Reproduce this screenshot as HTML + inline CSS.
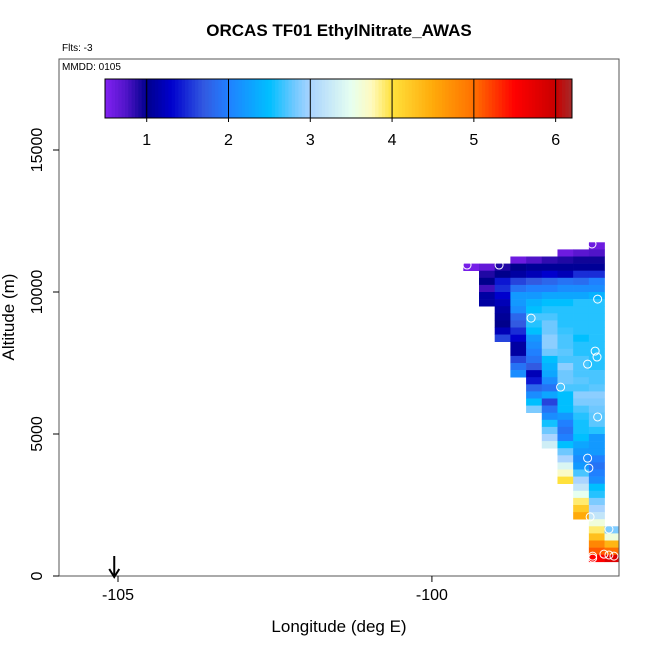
<!DOCTYPE html>
<html><head><meta charset="utf-8"><style>
body{margin:0;background:#fff;}
svg text{font-family:"Liberation Sans",sans-serif;}
</style></head><body>
<svg id="chart" width="650" height="650" xmlns="http://www.w3.org/2000/svg"></svg>
<script>
// grid data: rows from top (altitude top = 11750 - 250*r), starting column index, values
const rowStart = [8,6,3,0,1,1,1,1,1,2,2,2,2,2,3,3,3,3,3,4,4,4,4,4,5,5,5,5,5,6,6,6,6,6,7,7,7,7,7,8,8,8,8,8,8];
const rowVals = [
 [0.6],
 [0.6,0.7,0.75],
 [0.6,0.75,0.85,0.9,0.95,0.95],
 [0.55,0.65,0.9,1.0,1.05,1.05,1.05,1.05,1.05],
 [0.9,1.0,1.1,1.2,1.3,1.2,1.5,1.5],
 [1.0,1.4,1.6,1.7,1.8,1.9,1.85,2.0],
 [0.8,1.5,1.9,2.0,2.0,2.1,2.1,2.1],
 [1.1,1.3,2.2,2.2,2.3,2.3,2.3,2.4],
 [1.1,1.2,2.2,2.4,2.5,2.5,2.6,2.6],
 [1.1,2.1,2.5,2.6,2.6,2.6,2.6],
 [1.05,1.8,2.7,2.7,2.6,2.6,2.6],
 [1.0,1.7,2.6,2.8,2.6,2.6,2.6],
 [1.2,1.5,2.5,2.8,2.65,2.6,2.6],
 [1.6,1.3,2.2,2.9,2.7,2.5,2.6],
 [1.1,2.1,2.9,2.7,2.6,2.6],
 [1.1,2.0,2.8,2.75,2.6,2.6],
 [1.6,1.9,2.5,2.7,2.7,2.6],
 [1.9,1.7,2.4,2.9,2.7,2.6],
 [2.1,1.2,2.3,2.8,2.7,2.7],
 [1.4,2.1,2.8,2.75,2.7],
 [1.8,1.9,2.7,2.7,2.75],
 [2.1,2.3,2.5,2.9,2.9],
 [2.5,1.6,2.5,2.85,2.85],
 [2.85,1.9,2.5,2.7,2.8],
 [2.1,2.2,2.6,2.75],
 [2.55,2.0,2.55,2.75],
 [2.8,1.9,2.55,2.6],
 [3.0,2.0,2.5,2.2],
 [3.3,2.5,2.3,2.2],
 [2.8,2.2,2.2],
 [3.0,2.1,2.0],
 [3.4,2.2,1.9],
 [3.7,2.7,2.0],
 [4.0,3.0,2.1],
 [3.2,2.5],
 [3.5,2.6],
 [3.9,2.85],
 [4.2,3.0],
 [4.5,3.2],
 [3.6],
 [3.9,2.85],
 [4.3,3.6],
 [4.8,4.4],
 [5.1,5.0],
 [5.5,5.8]
];
const sampleLon = [-97.45,-99.44,-98.93,-97.36,-98.42,-97.40,-97.37,-97.52,-97.95,-97.36,-97.52,-97.50,-97.48,-97.18,-97.44,-97.26,-97.18,-97.10,-97.44];
const sampleAlt = [11690,10950,10950,9750,9080,7920,7710,7460,6650,5600,4150,3800,2080,1650,700,770,740,700,630];
const xTicks = [-105,-100];
const yTicks = [0,5000,10000,15000];
const cbTicks = [1,2,3,4,5,6];

const NS="http://www.w3.org/2000/svg";
const svg=document.getElementById('chart');
const L=59,R=619,T=59,B=576;
const xmin=-105.94,xmax=-97.02,ymin=0,ymax=18204;
const sx=v=>L+(v-xmin)/(xmax-xmin)*(R-L);
const sy=v=>B-(v-ymin)/(ymax-ymin)*(B-T);
const stops=[[0.5,[128,32,240]],[0.75,[80,20,200]],[1.0,[0,0,140]],[1.3,[0,0,205]],[1.7,[50,90,225]],[2.0,[32,128,255]],[2.5,[0,191,255]],[2.8,[110,200,255]],[3.0,[170,212,255]],[3.5,[230,255,240]],[3.75,[255,250,190]],[4.0,[255,225,60]],[4.5,[255,170,10]],[5.0,[255,112,0]],[5.5,[255,0,0]],[6.0,[200,0,0]],[6.2,[165,42,42]]];
function col(v){
  if(v<=stops[0][0])return `rgb(${stops[0][1]})`;
  for(let i=1;i<stops.length;i++){if(v<=stops[i][0]){const a=stops[i-1],b=stops[i];const t=(v-a[0])/(b[0]-a[0]);
    return `rgb(${a[1].map((c,k)=>Math.round(c+(b[1][k]-c)*t)).join(',')})`;}}
  return `rgb(${stops[stops.length-1][1]})`;
}
function mk(tag,attrs,parent){const e=document.createElementNS(NS,tag);for(const k in attrs)e.setAttribute(k,attrs[k]);(parent||svg).appendChild(e);return e;}
function txt(s,attrs){const e=mk('text',attrs);e.textContent=s;return e;}

const defs=mk('defs',{});const cp=mk('clipPath',{id:'pc'},defs);mk('rect',{x:L,y:T,width:R-L,height:B-T},cp);
const cells=mk('g',{'clip-path':'url(#pc)'});


rowVals.forEach((vals,r)=>{
  const top=11750-250*r;
  vals.forEach((v,i)=>{
    const c=rowStart[r]+i;const lon=-99.5+0.25*c;
    const x0=sx(lon),x1=sx(lon+0.25);
    const e=mk('rect',{x:x0.toFixed(2),y:sy(top).toFixed(2),width:(x1-x0+0.3).toFixed(2),height:(sy(top-250)-sy(top)+0.3).toFixed(2),fill:col(v)},cells);
    
    
  });
});
sampleLon.forEach((lo,i)=>{
  const e=mk('circle',{cx:sx(lo),cy:sy(sampleAlt[i]),r:4,fill:'none',stroke:'#fff','stroke-width':1},cells);
  
  
});
const fr=mk('rect',{x:L,y:T,width:R-L,height:B-T,fill:'none',stroke:'#555','stroke-width':1});


xTicks.forEach(t=>{const x=sx(t);mk('line',{x1:x,x2:x,y1:B,y2:B+6,stroke:'#000'});
  const e=txt(String(t),{x:x,y:600,'font-size':16,'text-anchor':'middle'});
  
  });
yTicks.forEach(t=>{const y=sy(t);mk('line',{x1:L-6,x2:L,y1:y,y2:y,stroke:'#000'});
  const e=txt(String(t),{x:42,y:y,'font-size':16,'text-anchor':'middle',transform:`rotate(-90 42 ${y})`});
  
  });
const ax=sx(-105.06);
const ar=mk('g',{});


mk('line',{x1:ax,x2:ax,y1:556,y2:576,stroke:'#000','stroke-width':2},ar);
mk('path',{d:`M${ax-5},569 L${ax},577 L${ax+5},569`,fill:'none',stroke:'#000','stroke-width':2},ar);
const cbL=105,cbR=572,cbT=79,cbB=118,cbmin=0.49,cbmax=6.2;
const cx=v=>cbL+(v-cbmin)/(cbmax-cbmin)*(cbR-cbL);
const cb=mk('g',{});


const N=140;
for(let i=0;i<N;i++){const v0=cbmin+(cbmax-cbmin)*i/N,v1=cbmin+(cbmax-cbmin)*(i+1)/N;
  mk('rect',{x:cx(v0),y:cbT,width:cx(v1)-cx(v0)+0.5,height:cbB-cbT,fill:col((v0+v1)/2)},cb);}
mk('rect',{x:cbL,y:cbT,width:cbR-cbL,height:cbB-cbT,fill:'none',stroke:'#000'},cb);
cbTicks.forEach(t=>{const x=cx(t);mk('line',{x1:x,x2:x,y1:cbT,y2:cbB+4,stroke:'#000'},cb);
  const e=txt(String(t),{x:x,y:145,'font-size':16,'text-anchor':'middle'});
  
  });
let e=txt('ORCAS TF01 EthylNitrate_AWAS',{x:339,y:36,'font-size':17,'font-weight':'bold','text-anchor':'middle'});

e=txt('Flts: -3',{x:62,y:51,'font-size':10});

e=txt('MMDD: 0105',{x:62,y:70,'font-size':10});

e=txt('Longitude (deg E)',{x:339,y:632,'font-size':17,'text-anchor':'middle'});

e=txt('Altitude (m)',{x:14,y:317,'font-size':17,'text-anchor':'middle',transform:'rotate(-90 14 317)'});

</script>
</body></html>
